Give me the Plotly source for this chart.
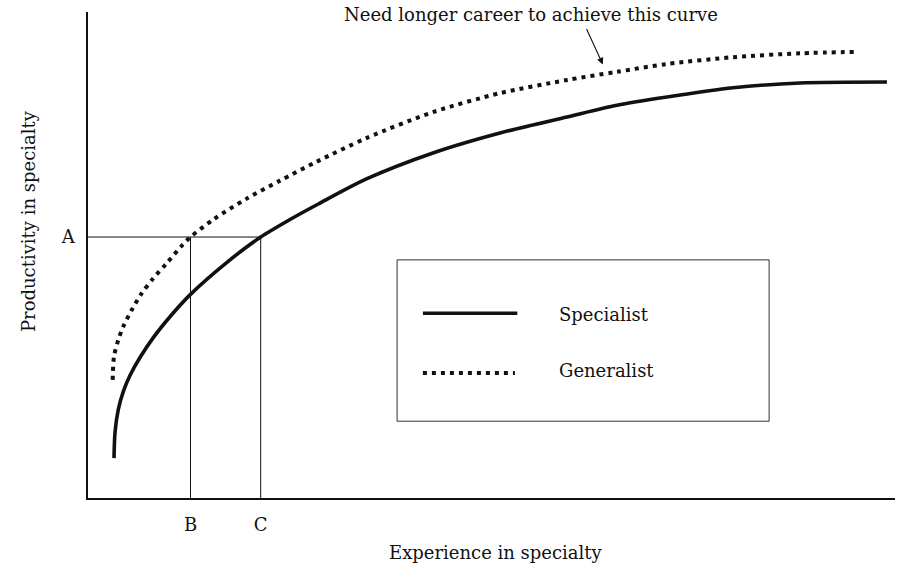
import plotly.graph_objects as go

# ---- data (arbitrary units: experience 0-100, productivity 0-100) ----
spec_x = [3.22, 3.35, 3.75, 4.37, 5.20, 6.44, 8.09, 10.16, 12.7, 17.60, 21.4, 25.03, 28.54,
          34.57, 42.75, 51.05, 59.36, 65.55, 71.75, 79.93, 88.23, 99.0]
spec_y = [8.2, 13.5, 18.2, 21.9, 25.2, 28.9, 33.0, 37.3, 41.9, 49.0, 53.7, 57.3, 60.5,
          65.7, 71.0, 75.1, 78.4, 80.8, 82.5, 84.4, 85.4, 85.6]

gen_x = [3.06, 3.22, 3.75, 4.37, 5.42, 6.65, 8.09, 9.75, 11.61, 12.7, 15.53, 19.67, 23.79, 28.34,
         34.57, 42.75, 51.05, 59.36, 65.55, 71.75, 79.93, 88.23, 95.42]
gen_y = [24.3, 29.1, 32.5, 35.3, 38.7, 42.1, 45.2, 48.3, 51.9, 53.7, 57.3, 61.6, 65.3, 69.2,
         74.1, 79.4, 83.3, 86.0, 87.7, 89.3, 90.7, 91.5, 91.8]

level_A = 53.7   # productivity level A
exp_B = 12.7     # experience B (generalist reaches A)
exp_C = 21.4     # experience C (specialist reaches A)

x_ticks = [exp_B, exp_C]
x_tick_labels = ["B", "C"]
y_ticks = [level_A]
y_tick_labels = ["A"]

FONT = "DejaVu Serif"
FS = 18
INK = "#111111"

fig = go.Figure()

# reference lines A-B, A-C
fig.add_trace(go.Scatter(x=[0, exp_C], y=[level_A, level_A], mode="lines",
                         line=dict(color=INK, width=1), hoverinfo="skip", showlegend=False))
fig.add_trace(go.Scatter(x=[exp_B, exp_B], y=[0, level_A], mode="lines",
                         line=dict(color=INK, width=1), hoverinfo="skip", showlegend=False))
fig.add_trace(go.Scatter(x=[exp_C, exp_C], y=[0, level_A], mode="lines",
                         line=dict(color=INK, width=1), hoverinfo="skip", showlegend=False))

fig.add_trace(go.Scatter(x=gen_x, y=gen_y, mode="lines", name="Generalist",
                         line=dict(color=INK, width=4, dash="4px,5px", shape="spline", smoothing=0.8),
                         showlegend=False))
fig.add_trace(go.Scatter(x=spec_x, y=spec_y, mode="lines", name="Specialist",
                         line=dict(color=INK, width=3.6, shape="spline", smoothing=0.8),
                         showlegend=False))

# manual legend box
fig.add_shape(type="rect", xref="x", yref="y", x0=38.3, x1=84.4, y0=15.8, y1=49.0,
              line=dict(color="#333333", width=1), fillcolor="rgba(0,0,0,0)")
fig.add_shape(type="line", xref="x", yref="y", x0=41.5, x1=53.2, y0=38.0, y1=38.0,
              line=dict(color=INK, width=3.6))
fig.add_shape(type="line", xref="x", yref="y", x0=41.5, x1=52.9, y0=25.7, y1=25.7,
              line=dict(color=INK, width=4, dash="4px,5px"))
fig.add_annotation(x=58.1, y=37.8, xref="x", yref="y", text="Specialist", showarrow=False,
                   xanchor="left", yanchor="middle", font=dict(family=FONT, size=FS, color=INK))
fig.add_annotation(x=58.1, y=26.3, xref="x", yref="y", text="Generalist", showarrow=False,
                   xanchor="left", yanchor="middle", font=dict(family=FONT, size=FS, color=INK))

# callout
fig.add_annotation(x=0.549, y=0.994, xref="paper", yref="paper", yanchor="middle",
                   text="Need longer career to achieve this curve", showarrow=False,
                   font=dict(family=FONT, size=FS, color=INK))
fig.add_annotation(x=63.8, y=89.2, xref="x", yref="y", text="", showarrow=True,
                   ax=-17, ay=-37, axref="pixel", ayref="pixel",
                   arrowhead=2, arrowsize=1.2, arrowwidth=1.1, arrowcolor=INK)

# axis titles
fig.add_annotation(x=-0.073, y=0.570, xref="paper", yref="paper", text="Productivity in specialty",
                   textangle=-90, showarrow=False, xanchor="center", yanchor="middle",
                   font=dict(family=FONT, size=FS, color=INK))
fig.add_annotation(x=0.5056, y=-0.113, xref="paper", yref="paper", text="Experience in specialty",
                   showarrow=False, xanchor="center", yanchor="middle",
                   font=dict(family=FONT, size=FS, color=INK))

fig.update_layout(
    width=917, height=570,
    margin=dict(l=88, r=22, t=12, b=72),
    paper_bgcolor="white", plot_bgcolor="white",
    showlegend=False,
    xaxis=dict(range=[0, 100], showgrid=False, zeroline=False, showline=True,
               linecolor=INK, linewidth=1.5, ticks="", tickvals=x_ticks, ticktext=x_tick_labels,
               ticklabelstandoff=10, tickfont=dict(family=FONT, size=FS, color=INK), fixedrange=True),
    yaxis=dict(range=[0, 100], showgrid=False, zeroline=False, showline=True,
               linecolor=INK, linewidth=1.5, ticks="", tickvals=y_ticks, ticktext=y_tick_labels,
               ticklabelstandoff=8, tickfont=dict(family=FONT, size=FS, color=INK), fixedrange=True),
)

fig.write_html("out.html", config={"displayModeBar": False},
               post_script="document.body.style.margin='0';")
